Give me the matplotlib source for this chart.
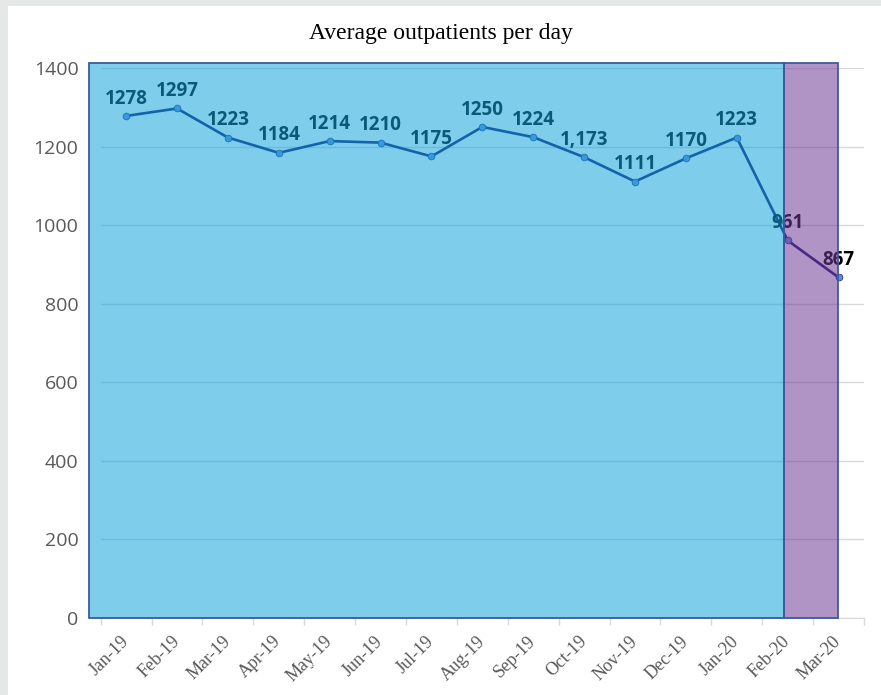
import matplotlib
matplotlib.use("Agg")
import matplotlib.pyplot as plt
from matplotlib.patches import Rectangle

# ---------------- DATOS ----------------
meses = ["Jan-19", "Feb-19", "Mar-19", "Apr-19", "May-19", "Jun-19", "Jul-19",
         "Aug-19", "Sep-19", "Oct-19", "Nov-19", "Dec-19", "Jan-20", "Feb-20", "Mar-20"]
pacientes = [1278, 1297, 1223, 1184, 1214, 1210, 1175, 1250, 1224, 1173,
             1111, 1170, 1223, 961, 867]
etiquetas = ["1278", "1297", "1223", "1184", "1214", "1210", "1175", "1250",
             "1224", "1,173", "1111", "1170", "1223", "961", "867"]
y_ticks = [0, 200, 400, 600, 800, 1000, 1200, 1400]

# ---------------- FIGURA ----------------
fig = plt.figure(figsize=(8.81, 6.95), dpi=100)
fig.patch.set_facecolor("white")

# borde gris de la captura
fig.patches.append(Rectangle((0, 0), 8 / 881, 1, transform=fig.transFigure,
                             facecolor="#e6e7e7", edgecolor="none", zorder=0))
fig.patches.append(Rectangle((0, 1 - 6 / 695), 1, 6 / 695, transform=fig.transFigure,
                             facecolor="#e6e7e7", edgecolor="none", zorder=0))

ax = fig.add_axes([100.7 / 881, 77 / 695, 763.3 / 881, 550 / 695])
ax.set_facecolor("white")

x = list(range(len(meses)))
ax.plot(x, pacientes, color="#14146e", linewidth=1.9, marker="o",
        markersize=4.8, markerfacecolor="#6a8ad8", markeredgecolor="#1a3a8e",
        markeredgewidth=0.6, zorder=3)

for i, (v, t) in enumerate(zip(pacientes, etiquetas)):
    ax.annotate(t, (i, v), xytext=(0, 12.5), textcoords="offset points",
                ha="center", va="center", fontsize=13.5, fontweight="bold",
                family="Open Sans", color="black", zorder=4)

# zonas sombreadas (encima de todo, semitransparentes)
ax.add_patch(Rectangle((-0.73, 0), 13.66, 1413, facecolor=(20 / 255, 164 / 255, 220 / 255, 0.55),
                       edgecolor="#3c5aa0", linewidth=1.3, clip_on=False, zorder=5))
ax.add_patch(Rectangle((12.93, 0), 1.05, 1413, facecolor=(111 / 255, 60 / 255, 151 / 255, 0.55),
                       edgecolor="#3c5aa0", linewidth=1.3, clip_on=False, zorder=6))

ax.set_xlim(-0.5, len(meses) - 0.5)
ax.set_ylim(0, 1400)
ax.set_yticks(y_ticks)
ax.set_yticklabels([str(t) for t in y_ticks], family="Open Sans", fontsize=14, color="#595959")
ax.tick_params(axis="y", length=0, pad=16)
ax.grid(axis="y", color="#d9d9d9", linewidth=1, zorder=1)
ax.set_axisbelow(True)

ax.set_xticks(x)
ax.set_xticklabels(meses, rotation=45, ha="right", va="center", rotation_mode="anchor",
                   family="Liberation Serif", fontsize=13, color="#595959")
ax.tick_params(axis="x", length=0, pad=15)
ax.set_xticks([i - 0.5 for i in range(len(meses) + 1)], minor=True)
ax.tick_params(axis="x", which="minor", length=5, color="#d9d9d9", width=1)

for lado in ["top", "right", "left"]:
    ax.spines[lado].set_visible(False)
ax.spines["bottom"].set_color("#d9d9d9")

fig.text(0.5, 1 - 34 / 695, "Average outpatients per day", ha="center", va="center",
         family="Liberation Serif", fontsize=17, color="black")

plt.savefig("out.png", dpi=100)
plt.close()
